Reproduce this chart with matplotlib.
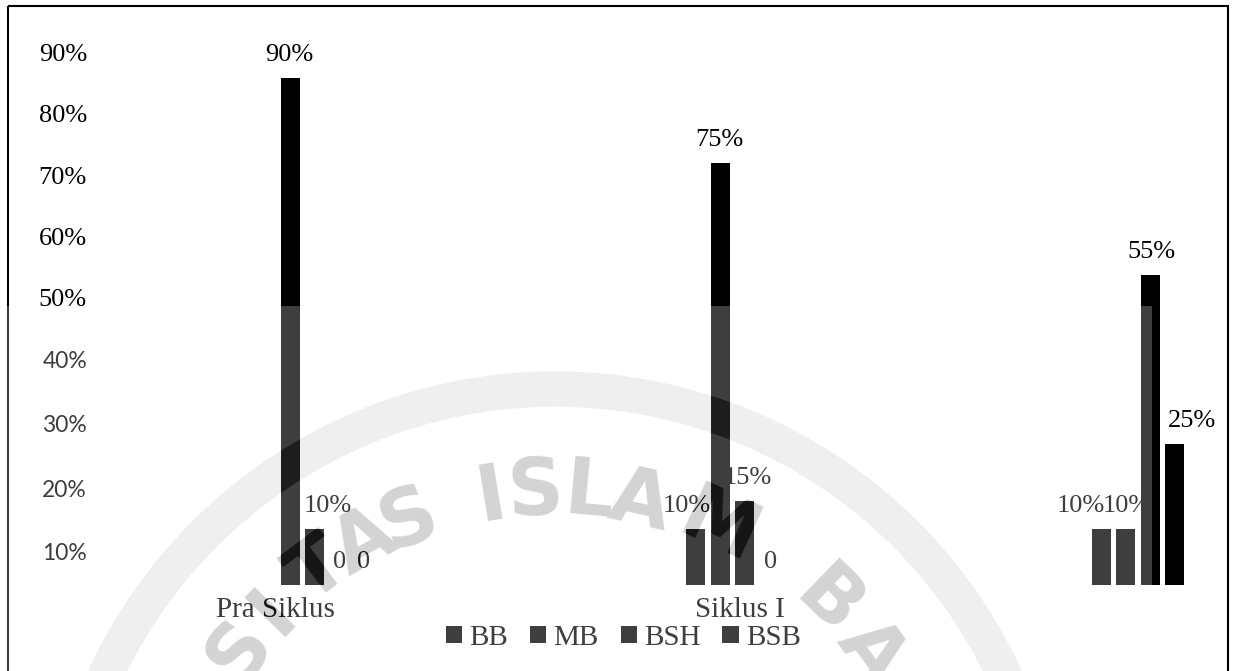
import numpy as np
import matplotlib
matplotlib.use("Agg")
import matplotlib.pyplot as plt
from matplotlib.figure import Figure
from matplotlib.backends.backend_agg import FigureCanvasAgg
from matplotlib.patches import Wedge, Rectangle

kategori = ["Pra Siklus", "Siklus I", ""]
seri = ["BB", "MB", "BSH", "BSB"]
bb = [90, 10, 10]
mb = [10, 75, 10]
bsh = [0, 15, 55]
bsb = [0, 0, 25]
nilai = [bb, mb, bsh, bsb]

ytick_label = ["10%", "20%", "30%", "40%", "50%", "60%", "70%", "80%", "90%"]
ytick_pos = [5.9, 17.2, 28.6, 40.0, 51.1, 61.9, 72.8, 83.7, 94.6]
xtick_pos = [-0.126, 1.018, 2.0]

# geser horizontal label nilai (px), per seri lalu per kategori
label_dx = [[-1, -9, -20], [13, -1, 1], [0, 3, 1], [0, 1, 17]]

W, H = 1234, 671
PT = 0.72  # 1 px dalam point pada dpi 100
serif = ["Liberation Serif", "DejaVu Serif"]

fig = plt.figure(figsize=(W / 100, H / 100), dpi=100)
ax = fig.add_axes([0, 86 / H, 1, 563 / H])
ax.set_xlim(-327 / 405.5, (W - 327) / 405.5)
ax.set_ylim(0, 100)

x = np.arange(len(kategori))
lebar = 19 / 405.5
jarak = 24.5 / 405.5
bars = []
for i, (nama, v) in enumerate(zip(seri, nilai)):
    pos = x + (i - 1.5) * jarak
    b = ax.bar(pos, v, lebar, color="black", label=nama, zorder=3)
    bars.append(b)
    for j, val in enumerate(v):
        teks = f"{val}%" if val else "0"
        ax.annotate(teks, (pos[j], val), xytext=(label_dx[i][j] * PT, 17 * PT),
                    textcoords="offset points", ha="center", va="baseline",
                    fontsize=19, family=serif, zorder=2)

for s in ax.spines.values():
    s.set_visible(False)
ax.set_yticks(ytick_pos, ytick_label)
ax.tick_params(axis="y", length=0, pad=-87 * PT)
for t in ax.get_yticklabels():
    if t.get_text() in ("10%", "20%", "30%", "40%"):
        t.set_fontfamily(["Lato", "DejaVu Sans"])
        t.set_fontsize(16.5)
    else:
        t.set_fontfamily(serif)
        t.set_fontsize(19)
ax.set_xticks(xtick_pos, kategori, fontsize=21, family=serif)
ax.tick_params(axis="x", length=0, pad=8.5)

fig.legend(handles=bars, labels=seri, loc="center", ncol=4,
           bbox_to_anchor=(623.5 / W, 1 - 638 / H), frameon=False,
           prop={"family": serif, "size": 21}, handlelength=0.55,
           handleheight=0.55, handletextpad=0.25, columnspacing=0.75,
           borderpad=0, borderaxespad=0)


# watermark logo: cincin + huruf melengkung
def topeng(gambar):
    mf = Figure(figsize=(W / 100, H / 100), dpi=100)
    FigureCanvasAgg(mf)
    m = mf.add_axes([0, 0, 1, 1])
    m.set_xlim(0, W)
    m.set_ylim(H, 0)
    m.axis("off")
    gambar(m)
    mf.canvas.draw()
    return 1 - np.asarray(mf.canvas.buffer_rgba())[:H, :W, 0] / 255.0


pusat = (555, 885)
huruf = "SITASISLAMBA"
sudut = [143.4, 135.9, 126.9, 119.1, 111.9, 99.3, 92.9, 84.9, 77.5, 65.3, 46, 36.3]


def gambar_cincin(m):
    m.add_patch(Wedge(pusat, 513, 0, 360, width=34, color="black"))


def gambar_huruf(m):
    for ch, a in zip(huruf, sudut):
        t = np.radians(a)
        m.text(pusat[0] + 393 * np.cos(t), pusat[1] - 393 * np.sin(t), ch,
               rotation=a - 90, rotation_mode="anchor", ha="center", va="center",
               fontsize=56, fontweight="bold", family="DejaVu Sans")


cincin = topeng(gambar_cincin)
tulisan = topeng(gambar_huruf)

yy, xx = np.mgrid[0:H, 0:W]
kotak = ((xx < 1152) & (yy >= 306)).astype(float)
A = 0.25 * kotak
P = 0.25 * 255 * kotak
for m, a, g in [(cincin, 0.18, 167), (tulisan, 0.255, 86)]:
    A = A * (1 - m) + a * m
    P = P * (1 - m) + a * g * m
C = np.where(A > 0, P / np.maximum(A, 1e-6), 0) / 255
rgba = np.dstack([C, C, C, A])

ov = fig.add_axes([0, 0, 1, 1], zorder=10)
ov.patch.set_alpha(0)
ov.add_patch(Rectangle((8, 6), 1220, 700, fill=False, lw=1.5, ec="black", zorder=1))
ov.imshow(rgba, extent=(0, W, H, 0), interpolation="nearest", aspect="auto", zorder=2)
ov.set_xlim(0, W)
ov.set_ylim(H, 0)
ov.axis("off")

fig.savefig("out.png", dpi=100)
